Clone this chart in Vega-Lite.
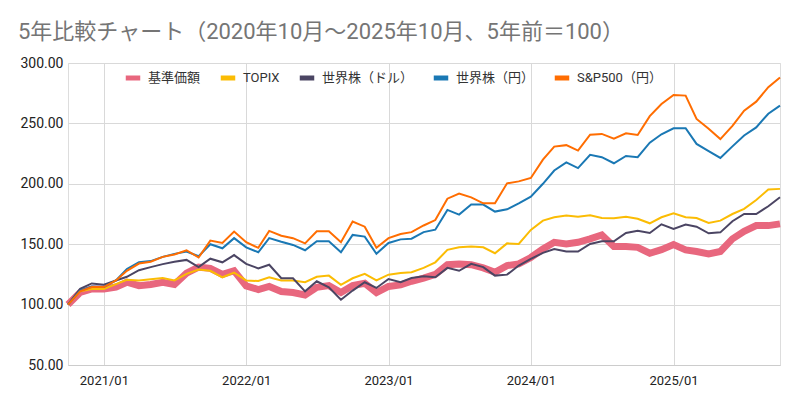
{
  "$schema": "https://vega.github.io/schema/vega-lite/v6.json",
  "width": 712,
  "height": 302,
  "autosize": {"type": "none"},
  "padding": {"left": 68, "top": 63, "right": 20, "bottom": 40},
  "background": "white",
  "title": {
    "text": "5年比較チャート（2020年10月～2025年10月、5年前＝100）",
    "anchor": "start",
    "frame": "group",
    "dx": -50,
    "offset": 12,
    "fontSize": 22,
    "fontWeight": "normal",
    "font": "Roboto, Noto Sans CJK JP",
    "color": "#757575"
  },
  "data": {
    "values": [
      {"date": "2020-10-01", "jp": 100, "topix": 100, "wusd": 100, "wjpy": 100, "sp": 100},
      {"date": "2020-11-01", "jp": 110, "topix": 111, "wusd": 113, "wjpy": 111.5, "sp": 111},
      {"date": "2020-12-01", "jp": 113, "topix": 113, "wusd": 117.5, "wjpy": 115, "sp": 114.5},
      {"date": "2021-01-01", "jp": 113, "topix": 113, "wusd": 116.5, "wjpy": 114.5, "sp": 114.5},
      {"date": "2021-02-01", "jp": 114.5, "topix": 117, "wusd": 120, "wjpy": 120, "sp": 120},
      {"date": "2021-03-01", "jp": 118.5, "topix": 120.5, "wusd": 123, "wjpy": 129.5, "sp": 128},
      {"date": "2021-04-01", "jp": 115.7, "topix": 120, "wusd": 128.5, "wjpy": 135, "sp": 134},
      {"date": "2021-05-01", "jp": 116.6, "topix": 121, "wusd": 131, "wjpy": 136, "sp": 135.5},
      {"date": "2021-06-01", "jp": 118.5, "topix": 122, "wusd": 133.5, "wjpy": 139.5, "sp": 139.5},
      {"date": "2021-07-01", "jp": 116.6, "topix": 120, "wusd": 135.5, "wjpy": 142, "sp": 141.5},
      {"date": "2021-08-01", "jp": 126, "topix": 125.5, "wusd": 137, "wjpy": 144, "sp": 145},
      {"date": "2021-09-01", "jp": 131, "topix": 129, "wusd": 131, "wjpy": 140, "sp": 139},
      {"date": "2021-10-01", "jp": 130, "topix": 128, "wusd": 138, "wjpy": 150, "sp": 153},
      {"date": "2021-11-01", "jp": 125, "topix": 122.6, "wusd": 135, "wjpy": 146.6, "sp": 151},
      {"date": "2021-12-01", "jp": 128, "topix": 126.5, "wusd": 141, "wjpy": 155, "sp": 160.5},
      {"date": "2022-01-01", "jp": 115.5, "topix": 120, "wusd": 133.7, "wjpy": 147.4, "sp": 151.6},
      {"date": "2022-02-01", "jp": 112.5, "topix": 119.5, "wusd": 130, "wjpy": 143.3, "sp": 147},
      {"date": "2022-03-01", "jp": 115, "topix": 122.6, "wusd": 133, "wjpy": 155, "sp": 161},
      {"date": "2022-04-01", "jp": 110.8, "topix": 120, "wusd": 121.8, "wjpy": 152, "sp": 157},
      {"date": "2022-05-01", "jp": 110, "topix": 120, "wusd": 121.8, "wjpy": 149.4, "sp": 155},
      {"date": "2022-06-01", "jp": 108, "topix": 118.5, "wusd": 111, "wjpy": 145, "sp": 150.7},
      {"date": "2022-07-01", "jp": 114.3, "topix": 123, "wusd": 119.3, "wjpy": 152.4, "sp": 160.7},
      {"date": "2022-08-01", "jp": 115.7, "topix": 124, "wusd": 114.3, "wjpy": 152.4, "sp": 160.7},
      {"date": "2022-09-01", "jp": 110, "topix": 116.3, "wusd": 104, "wjpy": 143.3, "sp": 151.6},
      {"date": "2022-10-01", "jp": 115.7, "topix": 121.8, "wusd": 111.6, "wjpy": 157.7, "sp": 168.7},
      {"date": "2022-11-01", "jp": 117.6, "topix": 125.4, "wusd": 118.5, "wjpy": 156.3, "sp": 164.5},
      {"date": "2022-12-01", "jp": 110, "topix": 120, "wusd": 113.8, "wjpy": 142, "sp": 147},
      {"date": "2023-01-01", "jp": 115, "topix": 124.8, "wusd": 121.2, "wjpy": 151, "sp": 155},
      {"date": "2023-02-01", "jp": 116.3, "topix": 126.2, "wusd": 118.5, "wjpy": 154, "sp": 158.5},
      {"date": "2023-03-01", "jp": 119.3, "topix": 126.8, "wusd": 122, "wjpy": 154.6, "sp": 160},
      {"date": "2023-04-01", "jp": 122, "topix": 130.4, "wusd": 123.5, "wjpy": 160, "sp": 165.5},
      {"date": "2023-05-01", "jp": 125, "topix": 135, "wusd": 122.6, "wjpy": 162, "sp": 170},
      {"date": "2023-06-01", "jp": 133, "topix": 145.3, "wusd": 130.4, "wjpy": 178.4, "sp": 187.7},
      {"date": "2023-07-01", "jp": 133.6, "topix": 147.4, "wusd": 128, "wjpy": 174.5, "sp": 192},
      {"date": "2023-08-01", "jp": 133, "topix": 148, "wusd": 133.7, "wjpy": 182.8, "sp": 188.8},
      {"date": "2023-09-01", "jp": 130.4, "topix": 147.4, "wusd": 131, "wjpy": 182.8, "sp": 183.8},
      {"date": "2023-10-01", "jp": 126.8, "topix": 142.5, "wusd": 124, "wjpy": 177, "sp": 183.8},
      {"date": "2023-11-01", "jp": 132.3, "topix": 150.7, "wusd": 124.8, "wjpy": 178.9, "sp": 200.4},
      {"date": "2023-12-01", "jp": 133.7, "topix": 150.2, "wusd": 132.3, "wjpy": 183.8, "sp": 202},
      {"date": "2024-01-01", "jp": 139, "topix": 161.8, "wusd": 137.8, "wjpy": 189.4, "sp": 204.8},
      {"date": "2024-02-01", "jp": 146, "topix": 169.5, "wusd": 142.8, "wjpy": 200, "sp": 220},
      {"date": "2024-03-01", "jp": 151.6, "topix": 172.3, "wusd": 146, "wjpy": 211, "sp": 230.8},
      {"date": "2024-04-01", "jp": 150.2, "topix": 173.7, "wusd": 143.9, "wjpy": 217.8, "sp": 232},
      {"date": "2024-05-01", "jp": 151.6, "topix": 172.8, "wusd": 143.9, "wjpy": 213, "sp": 227.5},
      {"date": "2024-06-01", "jp": 154.4, "topix": 174, "wusd": 150.2, "wjpy": 224, "sp": 240.7},
      {"date": "2024-07-01", "jp": 157.7, "topix": 171.7, "wusd": 152.4, "wjpy": 222, "sp": 241.3},
      {"date": "2024-08-01", "jp": 148, "topix": 171.4, "wusd": 152.4, "wjpy": 217, "sp": 237.4},
      {"date": "2024-09-01", "jp": 148, "topix": 172.8, "wusd": 159.3, "wjpy": 223, "sp": 241.8},
      {"date": "2024-10-01", "jp": 147.4, "topix": 171, "wusd": 161.2, "wjpy": 222, "sp": 240.4},
      {"date": "2024-11-01", "jp": 142.5, "topix": 167.3, "wusd": 159.3, "wjpy": 234, "sp": 256},
      {"date": "2024-12-01", "jp": 145.5, "topix": 172.3, "wusd": 166.5, "wjpy": 241, "sp": 266},
      {"date": "2025-01-01", "jp": 149.7, "topix": 175.6, "wusd": 162.6, "wjpy": 246, "sp": 273.5},
      {"date": "2025-02-01", "jp": 145.3, "topix": 172.3, "wusd": 166.2, "wjpy": 246, "sp": 273},
      {"date": "2025-03-01", "jp": 144, "topix": 171.7, "wusd": 164.5, "wjpy": 233, "sp": 253.7},
      {"date": "2025-04-01", "jp": 142, "topix": 167.6, "wusd": 159, "wjpy": 227, "sp": 245.6},
      {"date": "2025-05-01", "jp": 144, "topix": 169.5, "wusd": 159.8, "wjpy": 221.4, "sp": 237},
      {"date": "2025-06-01", "jp": 154.4, "topix": 175, "wusd": 169, "wjpy": 231, "sp": 248},
      {"date": "2025-07-01", "jp": 160.7, "topix": 179.2, "wusd": 175, "wjpy": 240, "sp": 260.5},
      {"date": "2025-08-01", "jp": 165.4, "topix": 186.6, "wusd": 175, "wjpy": 246.7, "sp": 268},
      {"date": "2025-09-01", "jp": 165.4, "topix": 195.2, "wusd": 181.4, "wjpy": 258, "sp": 280},
      {"date": "2025-10-01", "jp": 166.8, "topix": 195.8, "wusd": 188.8, "wjpy": 264.7, "sp": 288}
    ]
  },
  "encoding": {
    "x": {
      "field": "date",
      "type": "temporal",
      "title": null,
      "scale": {
        "type": "utc",
        "domain": [
          {"year": 2020, "month": 10, "date": 1, "utc": true},
          {"year": 2025, "month": 10, "date": 1, "utc": true}
        ],
        "nice": false
      },
      "axis": {
        "values": [
          {"year": 2021, "month": 1, "date": 1, "utc": true},
          {"year": 2022, "month": 1, "date": 1, "utc": true},
          {"year": 2023, "month": 1, "date": 1, "utc": true},
          {"year": 2024, "month": 1, "date": 1, "utc": true},
          {"year": 2025, "month": 1, "date": 1, "utc": true}
        ],
        "format": "%Y/%m",
        "grid": true,
        "gridColor": "#d9d9d9",
        "ticks": false,
        "domain": true,
        "domainColor": "#cccccc",
        "labelFontSize": 13,
        "labelFont": "Roboto",
        "labelColor": "#222222",
        "labelPadding": 9
      }
    }
  },
  "layer": [
    {
      "mark": {"type": "line", "strokeWidth": 7},
      "encoding": {
        "y": {
          "field": "jp",
          "type": "quantitative",
          "title": null,
          "scale": {"domain": [50, 300], "nice": false, "zero": false},
          "axis": {
            "values": [50, 100, 150, 200, 250, 300],
            "format": ".2f",
            "grid": true,
            "gridColor": "#d9d9d9",
            "ticks": false,
            "domain": false,
            "labelFontSize": 14,
            "labelFont": "Roboto",
            "labelColor": "#222222",
            "labelPadding": 5
          }
        },
        "color": {
          "datum": "基準価額",
          "type": "nominal",
          "scale": {
            "domain": ["基準価額", "TOPIX", "世界株（ドル）", "世界株（円）", "S&P500（円）"],
            "range": ["#e8677e", "#fbbc04", "#4b4563", "#1a78b4", "#ff6d01"]
          },
          "legend": {
            "title": null,
            "orient": "none",
            "direction": "horizontal",
            "columns": 5,
            "legendX": 55,
            "legendY": 5,
            "padding": 0,
            "symbolType": "stroke",
            "symbolSize": 210,
            "symbolStrokeWidth": 5,
            "labelFontSize": 13,
            "labelFont": "Roboto, Noto Sans CJK JP",
            "labelColor": "#333333",
            "labelOffset": 5,
            "columnPadding": 9
          }
        }
      }
    },
    {
      "mark": {"type": "line", "strokeWidth": 2},
      "encoding": {
        "y": {"field": "topix", "type": "quantitative", "title": null},
        "color": {"datum": "TOPIX", "type": "nominal"}
      }
    },
    {
      "mark": {"type": "line", "strokeWidth": 2},
      "encoding": {
        "y": {"field": "wusd", "type": "quantitative", "title": null},
        "color": {"datum": "世界株（ドル）", "type": "nominal"}
      }
    },
    {
      "mark": {"type": "line", "strokeWidth": 2},
      "encoding": {
        "y": {"field": "wjpy", "type": "quantitative", "title": null},
        "color": {"datum": "世界株（円）", "type": "nominal"}
      }
    },
    {
      "mark": {"type": "line", "strokeWidth": 2},
      "encoding": {
        "y": {"field": "sp", "type": "quantitative", "title": null},
        "color": {"datum": "S&P500（円）", "type": "nominal"}
      }
    }
  ]
}
